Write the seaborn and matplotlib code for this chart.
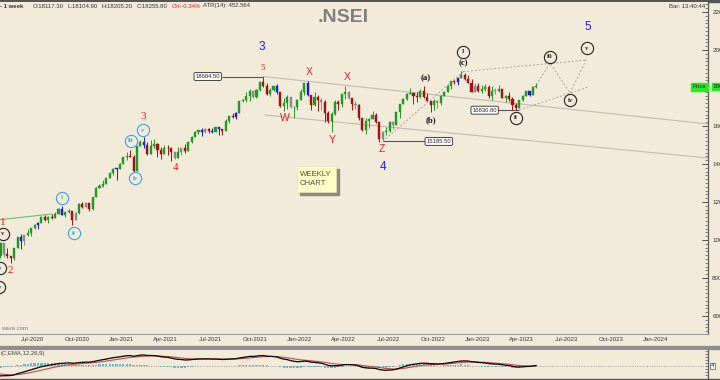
import matplotlib
matplotlib.use("Agg")
import matplotlib.pyplot as plt
import matplotlib.dates as mdates
import matplotlib.ticker as mticker
from matplotlib.patches import Rectangle
import numpy as np
import pandas as pd
import seaborn as sns

BG = "#f3ebda"

# weekly NIFTY bars, first week starts Mon 30-Dec-2019 (one row per month)
close = [
    12227, 12257, 12352, 12248, 11962,
    12098, 12113, 12081, 11202,
    10989, 9955, 8745, 8660,
    8084, 9112, 9267, 9154,
    9860, 9252, 9137, 9039, 9580,
    10142, 9972, 10244, 10383,
    10607, 10768, 10902, 11194, 11073,
    11214, 11178, 11372, 11647,
    11333, 11464, 11505, 11050,
    11417, 11914, 11762, 11930, 11642,
    12264, 12720, 12859, 12969,
    13258, 13514, 13761, 13749,
    14018, 14347, 14433, 14372, 13635,
    14924, 15163, 14982, 14529,
    14938, 15031, 14744, 14507,
    14867, 14834, 14617, 14341, 14631,
    14823, 14677, 15175, 15436,
    15670, 15799, 15683, 15860,
    15722, 15690, 15923, 15856, 15763,
    16238, 16529, 16451, 16705,
    17324, 17369, 17585, 17853,
    17532, 17895, 18339, 18115, 17672,
    17916, 18103, 17765, 17027,
    17197, 17511, 16985, 17004, 17354,
    17813, 18256, 17617, 17102,
    17516, 17375, 17276, 16658,
    16245, 16630, 17287, 17153,
    17670, 17784, 17476, 17172, 17102,
    16411, 15782, 16266, 16352,
    16584, 16202, 15294, 15699,
    15752, 16220, 16049, 16719, 17158,
    17397, 17698, 17758, 17558,
    17539, 17833, 17531, 17327, 17094,
    17315, 17186, 17576, 17787,
    18117, 18350, 18308, 18512,
    18696, 18497, 18269, 17807, 18105,
    17859, 17957, 18027, 17604,
    17854, 17856, 17944, 17466,
    17594, 17413, 17100, 16945, 17360,
    17599, 17828, 17624, 18065,
    18069,
]
high = [
    12293, 12311, 12389, 12430, 12216,
    12160, 12246, 12225, 12013,
    11433, 10751, 9960, 8876,
    8678, 9131, 9324, 9390,
    9890, 9450, 9584, 9178, 9599,
    10177, 10328, 10272, 10553,
    10631, 10847, 10933, 11240, 11341,
    11256, 11373, 11460, 11686,
    11794, 11493, 11618, 11535,
    11465, 11939, 12025, 11975, 11962,
    12281, 12769, 12963, 13145,
    13280, 13579, 13773, 13777,
    14050, 14367, 14653, 14753, 14491,
    14965, 15243, 15431, 15177,
    15273, 15336, 15111, 14879,
    14984, 14984, 14697, 14527, 14894,
    14863, 15044, 15189, 15469,
    15733, 15800, 15901, 15870,
    15915, 15916, 15952, 15962, 15862,
    16349, 16543, 16702, 16722,
    17340, 17436, 17793, 17947,
    17912, 17941, 18351, 18604, 18242,
    18012, 18124, 18210, 17805,
    17489, 17640, 17533, 17040, 17400,
    17944, 18286, 18351, 17373,
    17794, 17639, 17491, 17351,
    16815, 16757, 17344, 17353,
    17703, 18114, 17843, 17414, 17322,
    17132, 16404, 16400, 16415,
    16794, 16700, 16236, 15749,
    15928, 16275, 16248, 16752, 17172,
    17490, 17719, 17992, 17726,
    17777, 17925, 18096, 17723, 17196,
    17428, 17348, 17607, 17838,
    18176, 18362, 18442, 18534,
    18888, 18781, 18697, 18473, 18265,
    18252, 18183, 18201, 18177,
    18084, 17981, 18134, 17924,
    17645, 17800, 17529, 17208, 17381,
    17638, 17842, 17863, 18089,
    18267,
]
low = [
    12150, 11975, 12250, 12087, 11929,
    11634, 11990, 12000, 11175,
    10827, 8555, 7832, 7511,
    7875, 7999, 8821, 8904,
    9044, 9116, 9050, 8806, 8968,
    9726, 9544, 9729, 10194,
    10224, 10562, 10558, 10918, 11026,
    10882, 11112, 11145, 11366,
    11303, 11185, 11415, 10790,
    11031, 11348, 11661, 11723, 11535,
    11557, 12356, 12730, 12790,
    12962, 13283, 13402, 13132,
    13770, 14022, 14222, 14350, 13596,
    13662, 14977, 14868, 14468,
    14635, 14820, 14350, 14265,
    14505, 14460, 14151, 14273, 14408,
    14461, 14591, 14759, 15127,
    15451, 15566, 15450, 15606,
    15636, 15632, 15708, 15514, 15513,
    15834, 16162, 16395, 16376,
    16764, 17255, 17269, 17327,
    17452, 17452, 17865, 18034, 17613,
    17600, 17836, 17688, 16983,
    16782, 16892, 16967, 16410, 16863,
    17384, 17655, 17575, 16837,
    17064, 16810, 16843, 16203,
    16134, 15671, 16556, 16837,
    17004, 17422, 17442, 16825, 16888,
    16340, 15735, 15601, 15903,
    16444, 16172, 15183, 15191,
    15511, 15661, 15858, 16142, 16438,
    17154, 17359, 17710, 17166,
    17249, 17468, 17497, 17291, 16748,
    16855, 16950, 17098, 17637,
    17960, 17970, 18210, 18133,
    18560, 18410, 18256, 17779, 17846,
    17796, 17761, 17853, 17493,
    17353, 17699, 17765, 17455,
    17255, 17325, 16850, 16828, 16940,
    17313, 17574, 17554, 17612,
    17980,
]
x_ticks = ["2020-07-01", "2020-10-01", "2021-01-01", "2021-04-01", "2021-07-01",
           "2021-10-01", "2022-01-01", "2022-04-01", "2022-07-01", "2022-10-01",
           "2023-01-01", "2023-04-01", "2023-07-01", "2023-10-01", "2024-01-01"]
y_ticks = [6000, 8000, 10000, 12000, 14000, 16000, 18000, 20000, 22000]

assert len(close) == len(high) == len(low)

df = pd.DataFrame({
    "week": pd.date_range("2019-12-30", periods=len(close), freq="W-MON"),
    "close": close, "high": high, "low": low,
})
df["open"] = df["close"].shift().fillna(df["close"].iloc[0])
df["high"] = np.maximum(df["high"], df[["open", "close"]].max(axis=1))
df["low"] = np.minimum(df["low"], df[["open", "close"]].min(axis=1))

# bar colouring: outside bar blue, inside bar grey, else up/down
ph, pl = df["high"].shift(), df["low"].shift()
cols = np.where(df["close"] >= df["open"], "#1f9a24", "#9e1212").astype(object)
cols[((df["high"] > ph) & (df["low"] < pl)).values] = "#1c1cd8"
cols[((df["high"] <= ph) & (df["low"] >= pl)).values] = "#8a8a8a"

ema12 = df["close"].ewm(span=12, adjust=False).mean()
ema26 = df["close"].ewm(span=26, adjust=False).mean()
macd = ema12 - ema26
signal = macd.ewm(span=9, adjust=False).mean()
hist = macd - signal

sns.set_theme(style="white")
plt.rcParams["font.family"] = ["Liberation Sans", "DejaVu Sans"]


def T(d):
    return mdates.date2num(pd.Timestamp(d))


def fx(x):
    return x / 720


def fy(y):
    return 1 - y / 380


fig = plt.figure(figsize=(7.2, 3.8), dpi=100, facecolor=BG)
ax = fig.add_axes([0, 46 / 380, 708 / 720, 332 / 380], facecolor=BG)
mx = fig.add_axes([0, 2 / 380, 708 / 720, 28 / 380], facecolor=BG)

xs = mdates.date2num(df["week"])
lo = df[["open", "close"]].min(axis=1)
body = np.maximum((df["close"] - df["open"]).abs(), 25)
ax.vlines(xs, df["low"], df["high"], colors=list(cols), lw=0.7, zorder=3)
ax.bar(xs, body, bottom=lo, width=4.3, color=list(cols), edgecolor=list(cols),
       linewidth=0.3, zorder=4)

for a in (ax, mx):
    a.set_xlim(T("2020-04-26"), T("2024-04-17"))
    for s in ("left", "top"):
        a.spines[s].set_visible(False)
    a.spines["right"].set_color("#5a5a5a")
    a.spines["right"].set_linewidth(0.9)

ax.set_ylim(5053, 22526)
ax.yaxis.tick_right()
ax.set_yticks(y_ticks)
# the 18000 label sits under the green last-price tag
ax.set_yticklabels(["" if t == 18000 else str(t) for t in y_ticks])
ax.yaxis.set_minor_locator(mticker.MultipleLocator(200))
ax.tick_params(axis="y", which="major", direction="in", length=4, width=0.6,
               labelsize=4.5, pad=3, colors="#333")
ax.tick_params(axis="y", which="minor", direction="in", length=2, width=0.5,
               colors="#555")
ax.set_xticks([T(d) for d in x_ticks] + [T("2024-04-01")])
ax.set_xticklabels([pd.Timestamp(d).strftime("%b-%Y") for d in x_ticks] + [""])
ax.tick_params(axis="x", direction="in", length=3, width=0.6, labelsize=4.3,
               pad=2, colors="#333")
ax.spines["bottom"].set_color("#9a9a9a")
ax.spines["bottom"].set_linewidth(0.8)

# channel and projection lines
ax.plot([T("2020-04-01"), T("2020-08-10")], [11000, 11368], color="#6cbf6c", lw=0.8)
ax.plot([T("2021-10-18"), T("2024-04-17")], [18604, 16105], color="#c2bab0", lw=0.8)
ax.plot([T("2021-10-21"), T("2024-04-17")], [16579, 14316], color="#c2bab0", lw=0.8)
dots = dict(color="#a4a4a4", lw=0.7, ls=(0, (2, 2)))
ax.plot([T("2022-06-20"), T("2022-12-02")], [15190, 18863], **dots)
ax.plot([T("2022-12-02"), T("2023-08-13")], [18863, 19474], **dots)
ax.plot([T("2023-03-27"), T("2023-08-15")], [16842, 18053], **dots)
ax.plot([T("2023-05-01"), T("2023-05-29"), T("2023-07-09"), T("2023-08-13")],
        [18158, 19316, 17737, 19579], **dots)

# price level tags
box = dict(boxstyle="round,pad=0.25", fc="white", ec="#444", lw=0.7)
ax.hlines(18604.5, T("2021-07-26"), T("2021-10-18"), color="#555", lw=0.8)
ax.text(T("2021-06-26"), 18604.5, "18604.50", fontsize=4.2, ha="center", va="center", bbox=box)
ax.hlines(15185.5, T("2022-06-20"), T("2022-09-18"), color="#555", lw=0.8)
ax.text(T("2022-10-13"), 15185.5, "15185.50", fontsize=4.2, ha="center", va="center", bbox=box)
ax.hlines(16830.8, T("2023-02-12"), T("2023-03-27"), color="#555", lw=0.8)
ax.text(T("2023-01-15"), 16830.8, "16830.80", fontsize=4.2, ha="center", va="center", bbox=box)


# wave labels
def lab(d, v, s, col, size, fam="Liberation Sans", w="normal"):
    ax.text(T(d), v, s, color=col, fontsize=size, family=fam, fontweight=w,
            ha="center", va="center", zorder=6)


def circ(d, v, s, col):
    ax.plot([T(d)], [v], marker="o", ms=8.8, mfc=BG, mec=col, mew=0.8, zorder=6)
    ax.text(T(d), v, s, color=col, fontsize=4.8, family="Liberation Serif",
            fontweight="bold", ha="center", va="center", zorder=7)


lab("2021-10-15", 20158, "3", "#1a1aff", 8.5)
lab("2022-06-20", 13842, "4", "#1a1aff", 8.5)
lab("2023-08-14", 21210, "5", "#1a1aff", 8.5)
for d, v, s, sz in [("2021-02-13", 16474, "3", 8), ("2021-04-22", 13790, "4", 8),
                    ("2021-10-17", 19053, "5", 6.5), ("2020-05-02", 10947, "1", 8),
                    ("2020-05-18", 8421, "2", 8)]:
    lab(d, v, s, "#e82020", sz, fam="Liberation Serif")
for d, v, s in [("2021-12-01", 16421, "W"), ("2022-01-20", 18842, "X"),
                ("2022-03-08", 15263, "Y"), ("2022-04-08", 18579, "X"),
                ("2022-06-18", 14789, "Z")]:
    lab(d, v, s, "#f02020", 7.5)
for d, v, s in [("2022-09-15", 18526, "(a)"), ("2022-09-27", 16316, "(b)"),
                ("2022-12-02", 19316, "(c)")]:
    lab(d, v, s, "#111", 6.3, fam="Liberation Serif", w="bold")
for d, v, s in [("2022-12-02", 19895, "I"), ("2023-03-20", 16421, "ii"),
                ("2023-05-29", 19632, "iii"), ("2023-07-09", 17368, "iv"),
                ("2023-08-13", 20105, "v"), ("2020-05-02", 10316, "v"),
                ("2020-04-25", 8526, "v"), ("2020-04-24", 7526, "iv")]:
    circ(d, v, s, "#222")
for d, v, s in [("2020-08-31", 12211, "i"), ("2020-09-25", 10368, "ii"),
                ("2021-01-19", 15211, "iii"), ("2021-01-28", 13263, "iv"),
                ("2021-02-13", 15789, "v")]:
    circ(d, v, s, "#3aa0f0")

# last price tags
last = df["close"].iloc[-1]
ax.text(0.9885, last, "Price", transform=ax.get_yaxis_transform(), fontsize=4.3,
        ha="center", va="center", clip_on=False,
        bbox=dict(boxstyle="square,pad=0.25", fc="#22ee22", ec="#22ee22"))
ax.text(1.007, last, f"{last:.0f}", transform=ax.get_yaxis_transform(), fontsize=4.5,
        ha="left", va="center", clip_on=False,
        bbox=dict(boxstyle="square,pad=0.2", fc="#22ee22", ec="#22ee22"))

# MACD panel
mx.bar(xs, hist, width=4.6, color="#5cc0d0", linewidth=0)
mx.axhline(0, color="#9a9a9a", lw=0.7, ls=(0, (1, 1.5)))
sns.lineplot(x=xs, y=signal.values, ax=mx, color="#c24a4a", lw=0.8, legend=False)
sns.lineplot(x=xs, y=macd.values, ax=mx, color="black", lw=0.9, legend=False)
mx.set_ylim(-1000, 1330)
mx.yaxis.tick_right()
mx.set_yticks([-750, -500, -250, 0, 250, 500, 750, 1000, 1250])
mx.set_yticklabels([])
mx.tick_params(axis="y", direction="in", length=2.5, width=0.5, colors="#555")
mx.set_xticks([])
mx.spines["bottom"].set_visible(False)
mx.set_xlabel("")
mx.set_ylabel("")
mx.text(1.004, 0, "4", transform=mx.get_yaxis_transform(), fontsize=4.3, ha="left",
        va="center", clip_on=False,
        bbox=dict(boxstyle="square,pad=0.15", fc="white", ec="#555", lw=0.5))

# frame bands
fig.add_artist(Rectangle((0, fy(349)), 1, 3 / 380, transform=fig.transFigure,
                         color="#8e8e8e", zorder=0))
fig.add_artist(Rectangle((0, fy(1.5)), 1, 1.5 / 380, transform=fig.transFigure,
                         color="#555", zorder=0))
fig.add_artist(Rectangle((0, 0), 1, 1.2 / 380, transform=fig.transFigure,
                         color="#555", zorder=0))

# weekly note box
fig.add_artist(Rectangle((fx(300), fy(195)), 39 / 720, 26 / 380,
                         transform=fig.transFigure, color="#8c8a80"))
fig.add_artist(Rectangle((fx(297), fy(192)), 39 / 720, 26 / 380,
                         transform=fig.transFigure, fc="#ffffc6", ec="#e6e4b4", lw=0.5))
fig.text(fx(299.5), fy(179), "WEEKLY\nCHART", fontsize=5.6, color="#505050",
         ha="left", va="center", linespacing=1.35)

# header texts
hdr = dict(fontsize=4.3, va="center", color="#333")
fig.text(fx(0), fy(6), "- 1 week", fontweight="bold", **hdr)
for x, s in [(33, "O:18117.30"), (68, "L:18104.90"), (102, "H:18205.20"),
             (137, "C:18255.80"), (203, "ATR(14): 452.564")]:
    fig.text(fx(x), fy(6), s, **hdr)
fig.text(fx(172), fy(6), "CH:-0.34%", fontsize=4.3, va="center", color="#e02020")
fig.text(fx(705), fy(6), "Bar: 13:40:44", fontsize=4.3, va="center", ha="right", color="#333")
fig.text(fx(343), fy(18), ".NSEI", fontsize=14, fontweight="bold", color="#7f7f7f",
         ha="center", va="center")
fig.text(fx(1), fy(329), "wave.com", fontsize=4.3, color="#777", va="center")
fig.text(fx(1), fy(354), "(C,EMA,12,26,9)", fontsize=4.3, color="#444", va="center")

fig.savefig("out.png", dpi=100, facecolor=BG)
